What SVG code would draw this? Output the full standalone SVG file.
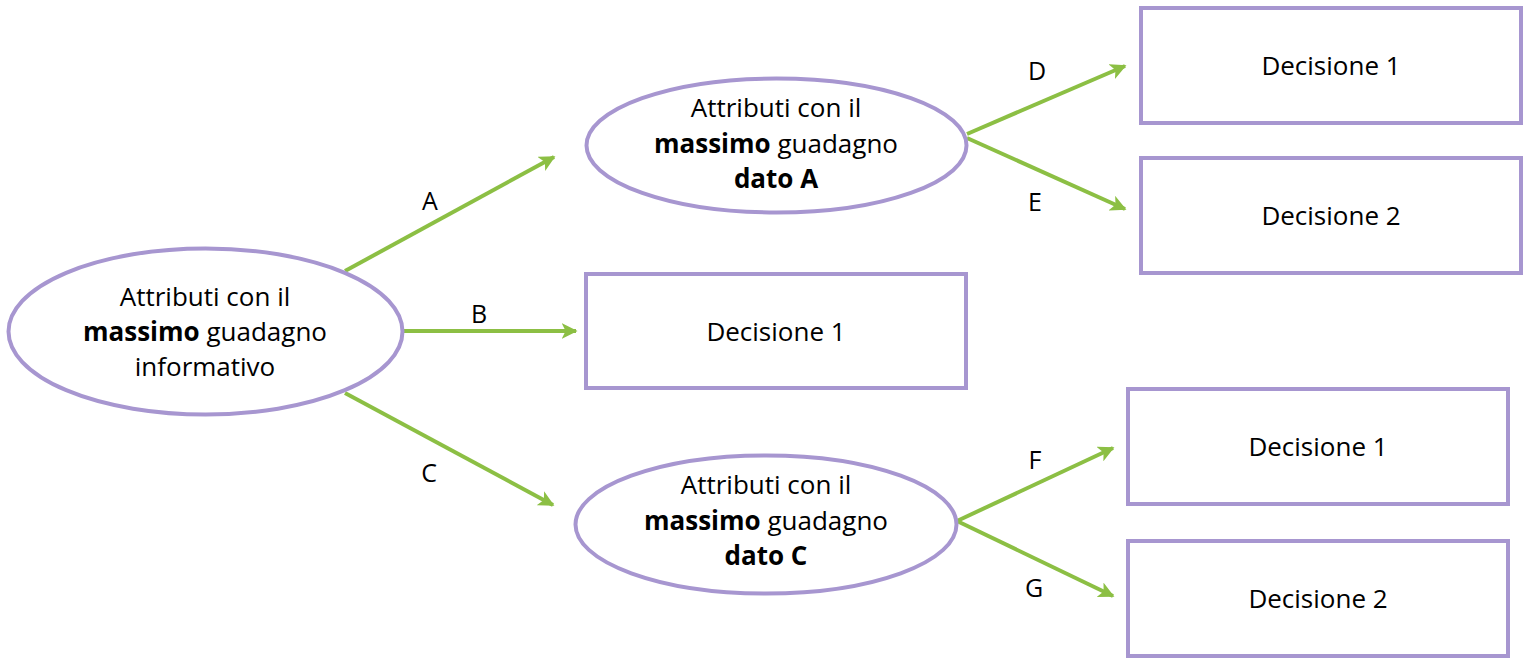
<svg xmlns="http://www.w3.org/2000/svg" width="1526" height="662" viewBox="0 0 1526 662">
<style>
.n{fill:#fff;stroke:#a796d0;stroke-width:4}
.t{font-family:"Open Sans","Liberation Sans",sans-serif;font-size:26px;fill:#000;text-anchor:middle}
.b{font-weight:bold}
.c{stroke:#8cbf44;stroke-width:4;fill:none;marker-end:url(#ah)}
.l{font-family:"Open Sans","Liberation Sans",sans-serif;font-size:25px;fill:#000;text-anchor:middle}
</style>
<defs>
<marker id="ah" viewBox="0 0 10 10" refX="9" refY="5" markerWidth="4" markerHeight="4" orient="auto" markerUnits="strokeWidth">
<path d="M0,0 L10,5 L0,10 L2.5,5 Z" fill="#8cbf44"/>
</marker>
</defs>
<rect width="1526" height="662" fill="#fff"/>
<g id="connectors">
<line class="c" x1="345" y1="271" x2="554" y2="157"/>
<line class="c" x1="403" y1="331" x2="576" y2="331"/>
<line class="c" x1="345" y1="393" x2="553" y2="505"/>
<line class="c" x1="967" y1="134" x2="1125" y2="66"/>
<line class="c" x1="967" y1="138" x2="1125" y2="209"/>
<line class="c" x1="957" y1="521" x2="1113" y2="448"/>
<line class="c" x1="957" y1="521" x2="1113" y2="596"/>
<text class="l" x="430" y="210">A</text>
<text class="l" x="479" y="323">B</text>
<text class="l" x="429" y="482">C</text>
<text class="l" x="1037" y="80">D</text>
<text class="l" x="1035" y="211">E</text>
<text class="l" x="1035" y="469">F</text>
<text class="l" x="1034" y="597">G</text>
</g>
<g id="root">
<ellipse class="n" cx="205.5" cy="331.5" rx="197" ry="83"/>
<text class="t" x="205" y="306">Attributi con il</text>
<text class="t" x="205" y="341"><tspan class="b">massimo</tspan> guadagno</text>
<text class="t" x="205" y="376">informativo</text>
</g>
<g id="nodeA">
<ellipse class="n" cx="776.5" cy="145.5" rx="190" ry="67"/>
<text class="t" x="776" y="117">Attributi con il</text>
<text class="t" x="776" y="153"><tspan class="b">massimo</tspan> guadagno</text>
<text class="t b" x="776" y="188">dato A</text>
</g>
<g id="nodeC">
<ellipse class="n" cx="766" cy="524.5" rx="190.5" ry="69"/>
<text class="t" x="766" y="494">Attributi con il</text>
<text class="t" x="766" y="530"><tspan class="b">massimo</tspan> guadagno</text>
<text class="t b" x="766" y="565">dato C</text>
</g>
<g id="decB">
<rect class="n" x="586" y="274" width="380" height="114"/>
<text class="t" x="776" y="341">Decisione 1</text>
</g>
<g id="decD">
<rect class="n" x="1141" y="8" width="380" height="115"/>
<text class="t" x="1331" y="75">Decisione 1</text>
</g>
<g id="decE">
<rect class="n" x="1141" y="158" width="380" height="115"/>
<text class="t" x="1331" y="225">Decisione 2</text>
</g>
<g id="decF">
<rect class="n" x="1128" y="389" width="380" height="115"/>
<text class="t" x="1318" y="456">Decisione 1</text>
</g>
<g id="decG">
<rect class="n" x="1128" y="541" width="380" height="115"/>
<text class="t" x="1318" y="608">Decisione 2</text>
</g>
</svg>
